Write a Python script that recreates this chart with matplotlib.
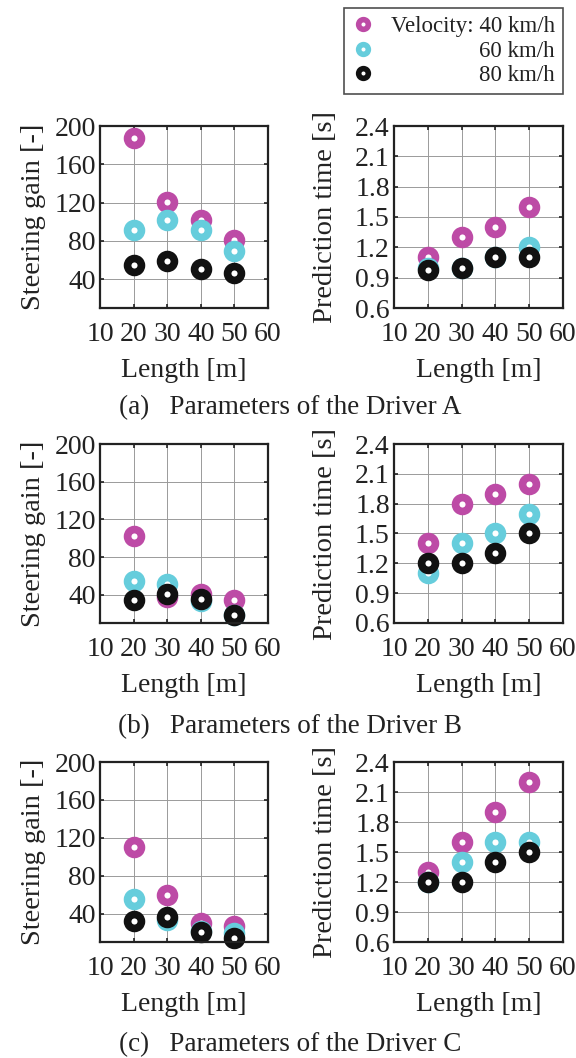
import matplotlib

matplotlib.use("Agg")
import matplotlib.pyplot as plt
from matplotlib.lines import Line2D

plt.rcParams["font.family"] = ["Liberation Serif", "DejaVu Serif"]
plt.rcParams["mathtext.fontset"] = "stix"

# course length [m]
lengths = [20, 30, 40, 50]
speeds = ["40 km/h", "60 km/h", "80 km/h"]
colors = ["#BD4BA6", "#66CDDC", "#111111"]

# steering gain [-] per driver, one list per speed (40, 60, 80 km/h)
gain_a = [[187, 121, 102, 81], [91, 102, 91, 70], [55, 59, 51, 47]]
gain_b = [[102, 38, 41, 34], [55, 51, 33, 18], [34, 41, 35, 18]]
gain_c = [[110, 60, 30, 27], [55, 33, 22, 20], [32, 36, 21, 14]]

# prediction time [s]
pred_a = [[1.1, 1.3, 1.4, 1.6], [1.0, 1.0, 1.1, 1.2], [0.98, 1.0, 1.1, 1.1]]
pred_b = [[1.4, 1.8, 1.9, 2.0], [1.1, 1.4, 1.5, 1.7], [1.2, 1.2, 1.3, 1.5]]
pred_c = [[1.3, 1.6, 1.9, 2.2], [1.2, 1.4, 1.6, 1.6], [1.2, 1.2, 1.4, 1.5]]

x_ticks = [10, 20, 30, 40, 50, 60]
gain_ticks = [40, 80, 120, 160, 200]
pred_ticks = [0.6, 0.9, 1.2, 1.5, 1.8, 2.1, 2.4]

captions = ["(a)   Parameters of the Driver A",
            "(b)   Parameters of the Driver B",
            "(c)   Parameters of the Driver C"]

W, H = 576, 1058
FS = 20

fig = plt.figure(figsize=(W / 100, H / 100), dpi=100)


def px_axes(left, top, right, bottom):
    return fig.add_axes([left / W, 1 - bottom / H, (right - left) / W, (bottom - top) / H])


def style(ax, yticks, ylim, ylabel, yfmt, ylabelpad):
    ax.set_xlim(10, 60)
    ax.set_ylim(*ylim)
    ax.set_xticks(x_ticks)
    ax.set_xticklabels([str(v) for v in x_ticks])
    ax.set_yticks(yticks)
    ax.set_yticklabels([yfmt.format(v) for v in yticks])
    ax.grid(True, color="#9a9a9a", linestyle="-", linewidth=0.7)
    ax.set_axisbelow(True)
    ax.tick_params(direction="in", length=3, width=1.2, top=True, right=True,
                   labelsize=FS, colors="#222222")
    ax.tick_params(axis="x", pad=10)
    ax.tick_params(axis="y", pad=3)
    for s in ax.spines.values():
        s.set_linewidth(1.6)
        s.set_color("#222222")
    ax.set_xlabel("Length [m]", fontsize=FS, color="#222222", labelpad=8)
    ax.set_ylabel(ylabel, fontsize=FS + 0.5, color="#222222", labelpad=ylabelpad)


def scatter(ax, series):
    for vals, c in zip(series, colors):
        ax.plot(lengths, vals, linestyle="none", marker="o", markersize=10,
                markeredgewidth=5.5, markeredgecolor=c, markerfacecolor="white",
                clip_on=False)


rows = [(126, 308, gain_a, pred_a, 408),
        (444, 623, gain_b, pred_b, 727),
        (762, 942, gain_c, pred_c, 1045)]

for (top, bottom, gains, preds, cap_y), cap in zip(rows, captions):
    ax1 = px_axes(100, top, 268, bottom)
    style(ax1, gain_ticks, (10, 200), "Steering gain [-]", "{:d}", 6)
    scatter(ax1, gains)

    ax2 = px_axes(394, top, 563, bottom)
    style(ax2, pred_ticks, (0.6, 2.4), "Prediction time [s]", "{:.1f}", 12)
    scatter(ax2, preds)

    fig.text(290 / W, 1 - cap_y / H, cap, fontsize=19.5, color="#222222",
             ha="center", va="center")

handles = [Line2D([], [], linestyle="none", marker="o", markersize=7,
                  markeredgewidth=4, markeredgecolor=c, markerfacecolor="white")
           for c in colors]
labels = ["Velocity: " + speeds[0], speeds[1], speeds[2]]
leg = fig.legend(handles, labels, loc="upper right",
                 bbox_to_anchor=(563 / W, 1 - 8 / H), borderaxespad=0,
                 fontsize=16.5, frameon=True, fancybox=False, edgecolor="#222222",
                 handlelength=1.0, handletextpad=0.7, borderpad=0.35,
                 labelspacing=0.15, markerfirst=True)
leg.get_frame().set_linewidth(1.2)
for t in leg.get_texts():
    t.set_ha("right")
    t.set_color("#222222")
# right-align the speed entries under the header
fig.canvas.draw()
widths = [t.get_window_extent().width for t in leg.get_texts()]
for t, w in zip(leg.get_texts(), widths):
    t.set_position((max(widths) - w, 0))

fig.savefig("out.png", dpi=100)
